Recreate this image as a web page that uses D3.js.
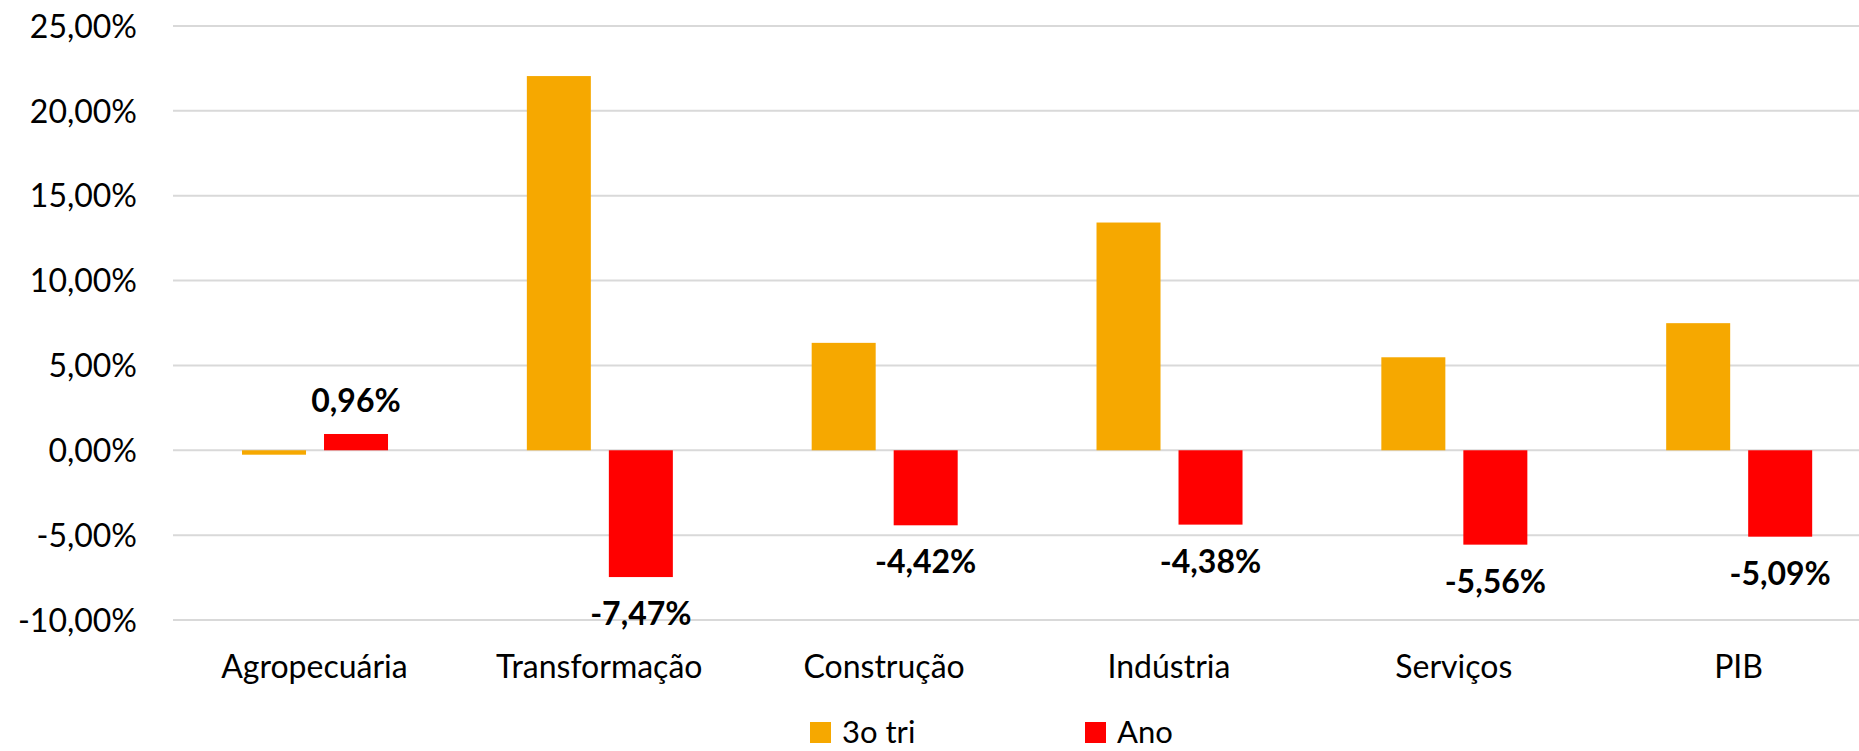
<!DOCTYPE html>
<html>
<head>
<meta charset="utf-8">
<script src="https://cdn.jsdelivr.net/npm/d3@7"></script>
<style>
  html, body { margin: 0; padding: 0; background: #fff; }
  svg { display: block; }
  text { font-family: Lato, "Open Sans", sans-serif; fill: #000; }
</style>
</head>
<body>
<svg id="chart" width="1859" height="751"></svg>
<script>
const categories = ["Agropecuária", "Transformação", "Construção", "Indústria", "Serviços", "PIB"];
const seriesNames = ["3o tri", "Ano"];
const triValues = [-0.26, 22.05, 6.33, 13.42, 5.48, 7.49];
const anoValues = [0.96, -7.47, -4.42, -4.38, -5.56, -5.09];
const yTicks = [-10, -5, 0, 5, 10, 15, 20, 25];
const seriesColors = ["#F6A800", "#FF0000"];

const W = 1859, H = 751;
const svg = d3.select("#chart");

const locale = d3.formatLocale({ decimal: ",", thousands: ".", grouping: [3], currency: ["R$", ""], minus: "-" });
const fmt = v => locale.format(".2f")(v) + "%";

const y = d3.scaleLinear().domain([-10, 25]).range([620, 26]);
const x = d3.scaleBand().domain(categories).range([172, 1881]).padding(0);
const bw = x.bandwidth();
const xi = d3.scaleBand().domain(seriesNames).range([bw * 0.2458, bw * 0.7584]).paddingInner(0.2195).paddingOuter(0);

// gridlines
const grid = svg.append("g");
grid.selectAll("line").data(yTicks).join("line")
  .attr("x1", 173).attr("x2", W)
  .attr("y1", d => y(d)).attr("y2", d => y(d))
  .attr("stroke", "#d9d9d9").attr("stroke-width", 2);

// y axis labels
const yAxis = d3.axisLeft(y).tickValues(yTicks).tickFormat(fmt).tickSize(0).tickPadding(0);
const ya = svg.append("g").attr("transform", "translate(137,0)").call(yAxis);
ya.select(".domain").remove();
ya.selectAll("text").attr("font-family", "Lato, 'Open Sans', sans-serif").attr("font-size", 32).attr("fill", "#000").attr("dy", "0.35em");

// bars
const rows = categories.map((c, i) => ({ cat: c, vals: [triValues[i], anoValues[i]] }));
const groups = svg.append("g").selectAll("g").data(rows).join("g")
  .attr("transform", d => `translate(${x(d.cat)},0)`);
groups.selectAll("rect").data(d => d.vals.map((v, j) => ({ s: seriesNames[j], v, j })))
  .join("rect")
  .attr("x", d => xi(d.s))
  .attr("width", xi.bandwidth())
  .attr("y", d => y(Math.max(0, d.v)))
  .attr("height", d => Math.abs(y(d.v) - y(0)))
  .attr("fill", d => seriesColors[d.j]);

// data labels for "Ano"
groups.append("text")
  .attr("x", d => xi("Ano") + xi.bandwidth() / 2)
  .attr("y", d => d.vals[1] >= 0 ? y(d.vals[1]) - 33 : y(d.vals[1]) + 37)
  .attr("text-anchor", "middle")
  .attr("dy", "0.35em")
  .attr("font-size", 32)
  .attr("font-weight", "bold")
  .text(d => fmt(d.vals[1]));

// x axis labels
const xAxis = d3.axisBottom(x).tickSize(0).tickPadding(0);
const xa = svg.append("g").attr("transform", "translate(0,667)").call(xAxis);
xa.select(".domain").remove();
xa.selectAll("text").attr("font-family", "Lato, 'Open Sans', sans-serif").attr("font-size", 32).attr("fill", "#000").attr("dy", "0.35em");

// legend
const legX = [810, 1085];
const leg = svg.append("g").selectAll("g").data(seriesNames).join("g")
  .attr("transform", (d, i) => `translate(${legX[i]},722)`);
leg.append("rect").attr("width", 21).attr("height", 21).attr("fill", (d, i) => seriesColors[i]);
leg.append("text").attr("x", 32).attr("y", 10).attr("dy", "0.35em").attr("font-size", 31).text(d => d);
</script>
</body>
</html>
